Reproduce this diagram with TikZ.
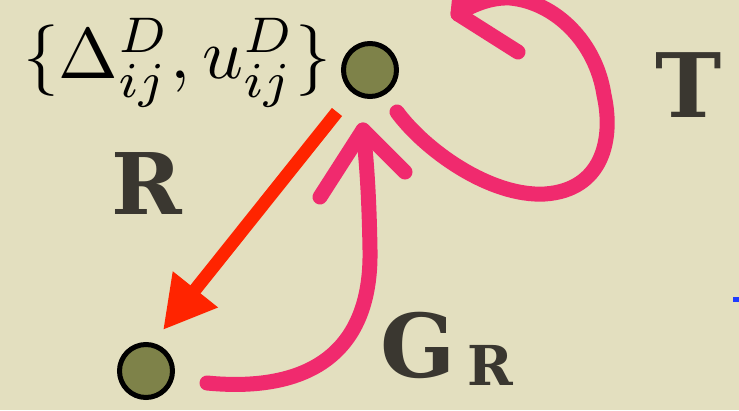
\documentclass[tikz,border=0pt]{standalone}
\usepackage{fontspec}
\newfontfamily\copfont{DejaVu Serif}
\usetikzlibrary{arrows.meta}
\definecolor{bg}{HTML}{E3DFBF}
\definecolor{olive}{HTML}{7E8249}
\definecolor{ink}{HTML}{3A3730}
\definecolor{pinkm}{HTML}{F02A6E}
\definecolor{redar}{HTML}{FF2400}
\definecolor{bluet}{HTML}{1E3CFF}
\begin{document}
\begin{tikzpicture}[x=1pt,y=-1pt,
  dot/.style={circle,draw=black,fill=olive,line width=5pt,minimum size=53pt,inner sep=0pt},
  pinkstroke/.style={draw=pinkm,line width=15pt,line cap=round,line join=round},
  lbl/.style={text=ink,inner sep=0pt}]
\useasboundingbox (0,0) rectangle (739,410);
\fill[bg] (0,0) rectangle (739,410);
\clip (0,0) rectangle (739,410);
\node[dot] (top) at (370,70) {};
\node[dot] (bot) at (146,371) {};
\node[inner sep=0pt,scale=7.15] (set) at (177,63) {$\{\Delta^D_{ij},u^D_{ij}\}$};
% red arrow R
\draw[redar,line width=13pt,-{Triangle[length=52pt,width=54pt]}]
  ([shift={(-33,42)}]top.center) -- ([shift={(17,-41)}]bot.center);
% pink G_R arrow
\coordinate (gs) at ([shift={(61,12)}]bot.center);
\coordinate (gt) at ([shift={(-7,60)}]top.center);
\draw[pinkstroke] (gs) .. controls (300,392) and (372,360) .. (370,250)
  .. controls (369,190) and (366,155) .. (gt);
\draw[pinkstroke] (320,197) -- (gt) -- (405,172);
% pink T loop
\coordinate (ts) at ([shift={(27,42)}]top.center);
\coordinate (tt) at (458,14);
\draw[pinkstroke] (ts) .. controls (425,150) and (490,197) .. (545,194)
  .. controls (602,190) and (614,140) .. (604,95)
  .. controls (596,42) and (555,2) .. (510,-2)
  .. controls (490,-3) and (470,6) .. (tt);
\draw[pinkstroke] (518,52) -- (tt) -- (462,-25);
% labels
\node[lbl,font=\copfont\bfseries\fontsize{85}{85}\selectfont] (R) at (146.5,184) {R};
\node[lbl,font=\copfont\bfseries\fontsize{89}{89}\selectfont] (T) at (688.5,85.5) {T};
\node[lbl,anchor=base west,font=\copfont\bfseries\fontsize{88}{88}\selectfont] (G) at (380,377)
  {G\hspace{12pt}\raisebox{-8pt}{\fontsize{55}{55}\selectfont R}};
% blue tick at right edge
\fill[bluet] (733,297) rectangle (739,302);
\end{tikzpicture}
\end{document}
